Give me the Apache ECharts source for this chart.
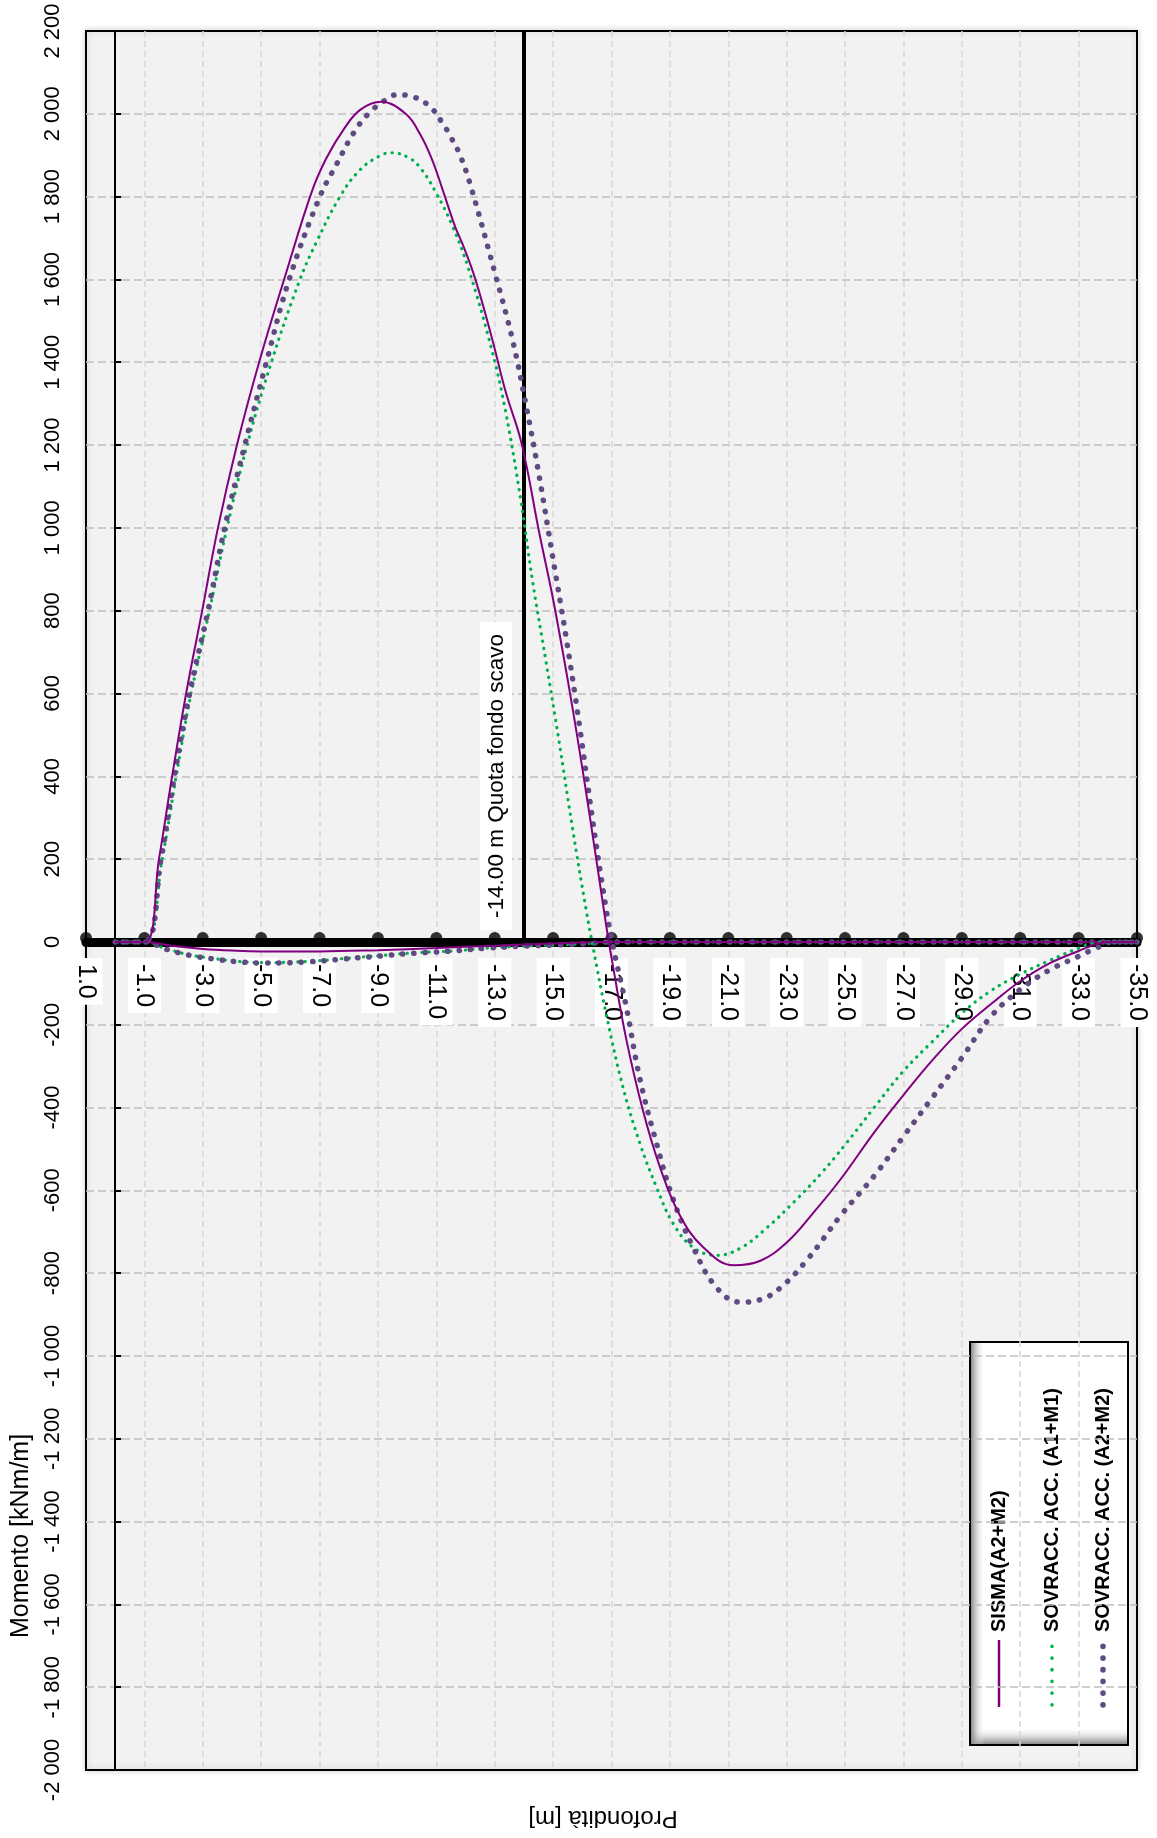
<!DOCTYPE html>
<html>
<head>
<meta charset="utf-8">
<script src="https://cdn.jsdelivr.net/npm/echarts@6/dist/echarts.min.js"></script>
<style>
html,body{margin:0;padding:0;background:#fff;}
#chart{width:1157px;height:1838px;}
</style>
</head>
<body>
<div id="chart"></div>
<script>
// Depth ticks along the wall (m) and the moment range (kNm/m)
const depthTicks = [1, -1, -3, -5, -7, -9, -11, -13, -15, -17, -19, -21, -23, -25, -27, -29, -31, -33, -35];
const momentMin = -2000;
const momentMax = 2200;
const excavationDepth = -14;

// SISMA (A2+M2) - bending moment along depth
const sismaDepth = [0, -1, -1.5, -1.95, -2.43, -2.98, -3.52, -4.17, -4.93, -5.83, -6.75, -7.25, -7.85, -8.4, -9.1, -9.95, -10.45, -10.85, -11.2, -11.64, -11.93, -12.33, -12.91, -13.37, -13.92, -14.52, -15.03, -15.67, -16.24, -16.82, -17.05, -17.5, -18.08, -18.66, -19.34, -20.15, -21.18, -22.1, -23.02, -23.94, -24.86, -26, -27, -28, -29, -30, -31, -32, -33, -33.6, -34, -35];
const sismaMoment = [0, 0, 200, 400, 600, 800, 1000, 1200, 1400, 1610, 1815, 1895, 1965, 2010, 2029, 2000, 1950, 1890, 1820, 1728, 1680, 1602, 1457, 1330, 1204, 990, 816, 563, 311, 39, -58, -233, -408, -544, -660, -738, -781, -770, -725, -652, -572, -460, -370, -285, -210, -150, -95, -52, -22, -5, 0, 0];
const sismaReturnDepth = [-35, -17, -15, -13, -11, -9, -7, -5, -4, -3, -2, -1, 0];
const sismaReturnMoment = [0, 0, -4, -9, -15, -20, -23, -23, -21, -17, -10, 0, 0];

// SOVRACC. ACC. (A1+M1)
const a1Depth = [0, -1, -1.61, -2.09, -2.6, -3.23, -3.83, -4.52, -5.35, -6.33, -6.9, -7.7, -8.39, -9.08, -9.48, -10.1, -10.5, -10.97, -11.54, -12.11, -12.91, -13.37, -13.89, -14.29, -14.75, -15.2, -15.67, -16.13, -16.36, -16.82, -17.39, -17.97, -18.54, -19.11, -19.8, -20.6, -21.41, -22.33, -23.25, -24.17, -25, -26, -27, -28, -29, -30, -31, -32, -33, -33.5, -34, -35];
const a1Moment = [0, 0, 200, 400, 600, 800, 1000, 1200, 1400, 1600, 1691, 1800, 1865, 1899, 1906, 1892, 1865, 1812, 1731, 1624, 1427, 1282, 1068, 874, 680, 486, 272, 78, -10, -175, -350, -486, -592, -680, -738, -757, -740, -690, -628, -560, -490, -400, -312, -240, -172, -118, -78, -45, -15, -3, 0, 0];
const a1ReturnDepth = [-35, -17, -16.4, -15.2, -14, -12.77, -11.55, -10.3, -9.1, -7.87, -6.65, -5.06, -4.2, -3.35, -2.6, -1.76, -1, 0];
const a1ReturnMoment = [0, 0, -3, -7, -10, -15, -22, -26, -33, -40, -47, -50, -47, -40, -32, -17, 0, 0];

// SOVRACC. ACC. (A2+M2)
const a2Depth = [0, -1, -1.57, -2.03, -2.55, -3.18, -3.75, -4.44, -5.18, -5.96, -7.01, -7.59, -8.16, -8.67, -9.25, -9.65, -10.1, -10.74, -11.19, -11.48, -11.82, -12.2, -13.02, -13.6, -14.06, -14.52, -14.98, -15.44, -15.9, -16.36, -16.82, -17.05, -17.5, -17.97, -18.54, -19.11, -19.8, -20.6, -21.41, -22.1, -22.79, -23.71, -24.86, -26, -27, -28, -29, -30, -31, -32, -33, -33.6, -34.2, -35];
const a2Moment = [0, 0, 200, 400, 600, 800, 1000, 1200, 1400, 1600, 1800, 1879, 1953, 2000, 2033, 2046, 2043, 2020, 1980, 1946, 1899, 1820, 1612, 1457, 1301, 1126, 932, 738, 524, 291, 78, -10, -155, -330, -486, -621, -738, -835, -870, -864, -835, -767, -660, -565, -470, -375, -280, -180, -115, -68, -35, -15, 0, 0];
const a2ReturnDepth = [-35, -17, -16.4, -15.2, -14, -12.77, -11.55, -10.3, -9.1, -7.87, -6.65, -5.06, -4.2, -3.35, -2.6, -1.76, -1, 0];
const a2ReturnMoment = [0, 0, -3, -7, -10, -15, -22, -27, -34, -41, -48, -51, -48, -41, -33, -18, 0, 0];

const FONT = '"Liberation Sans", Arial, Helvetica, sans-serif';
const C_SISMA = '#800080';
const C_A1 = '#00b050';
const C_A2 = '#5f4a82';

function zip(xs, ys) { return xs.map((x, i) => [x, ys[i]]); }

function fmtMoment(v) {
  const a = Math.abs(v).toString();
  const s = a.length > 3 ? a.slice(0, a.length - 3) + ' ' + a.slice(-3) : a;
  return (v < 0 ? '-' : '') + s;
}

const solidStyle = { color: C_SISMA, width: 2 };
const a1Style = { color: C_A1, width: 3.2, type: [0.3, 7.0], cap: 'round' };
const a2Style = { color: C_A2, width: 5.5, type: [0.3, 11.0], cap: 'round' };

function curve(name, data, lineStyle, z) {
  return {
    name: name, type: 'line', data: data, smooth: 0.4, showSymbol: false,
    symbol: 'none', lineStyle: lineStyle, itemStyle: { color: lineStyle.color },
    z: z, silent: true
  };
}

const chart = echarts.init(document.getElementById('chart'), null, { renderer: 'canvas' });

const option = {
  animation: false,
  backgroundColor: '#ffffff',
  textStyle: { fontFamily: FONT },
  grid: {
    left: 86, right: 20, top: 31, bottom: 68,
    show: true, backgroundColor: '#f2f2f2', borderColor: '#000', borderWidth: 2,
    shadowColor: 'rgba(0,0,0,0.18)', shadowBlur: 6
  },
  xAxis: {
    type: 'value', inverse: true, min: -35, max: 1, interval: 2,
    axisLine: { show: true, onZero: true, lineStyle: { color: '#000', width: 9 } },
    axisTick: { show: false },
    axisLabel: {
      rotate: -90, margin: -812, color: '#000', fontSize: 25, fontFamily: FONT,
      backgroundColor: '#fff', padding: [4, 6, 4, 6],
      showMinLabel: true, showMaxLabel: true, hideOverlap: false,
      formatter: v => v.toFixed(1)
    },
    splitLine: { show: true, showMinLine: false, showMaxLine: false, lineStyle: { color: '#d6d6d6', width: 1.5, type: [6, 4] } }
  },
  yAxis: {
    type: 'value', min: momentMin, max: momentMax, interval: 200,
    axisLine: { show: true, onZero: true, lineStyle: { color: '#000', width: 2 } },
    axisTick: { show: true, inside: true, length: 6, lineStyle: { color: '#000', width: 2 } },
    axisLabel: {
      rotate: 90, margin: 22, color: '#000', fontSize: 22, fontFamily: FONT,
      showMinLabel: true, showMaxLabel: true,
      formatter: fmtMoment
    },
    splitLine: { show: true, showMinLine: false, showMaxLine: false, lineStyle: { color: '#bfbfbf', width: 1.5, type: [8, 4] } }
  },
  series: [
    {
      name: 'baseline', type: 'scatter', data: depthTicks.map(d => [d, 0]),
      symbol: 'circle', symbolSize: 12, symbolOffset: [0, -4],
      itemStyle: { color: '#000' }, z: 3, silent: true,
      markLine: {
        silent: true, symbol: 'none', animation: false,
        lineStyle: { color: '#000', width: 4, type: 'solid' },
        label: {
          show: true, position: 'insideStartTop', distance: 12,
          formatter: '-14.00 m Quota fondo scavo',
          color: '#000', fontSize: 22.5, fontFamily: FONT,
          backgroundColor: '#fff', padding: [5, 12, 4, 12]
        },
        data: [[{ coord: [excavationDepth, 0] }, { coord: [excavationDepth, momentMax] }]]
      }
    },
    curve('SOVRACC. ACC. (A1+M1)', zip(a1ReturnDepth, a1ReturnMoment), a1Style, 4),
    curve('SOVRACC. ACC. (A2+M2)', zip(a2ReturnDepth, a2ReturnMoment), a2Style, 4),
    curve('SISMA(A2+M2)', zip(sismaReturnDepth, sismaReturnMoment), solidStyle, 5),
    curve('SOVRACC. ACC. (A1+M1)', zip(a1Depth, a1Moment), a1Style, 6),
    curve('SOVRACC. ACC. (A2+M2)', zip(a2Depth, a2Moment), a2Style, 6),
    curve('SISMA(A2+M2)', zip(sismaDepth, sismaMoment), solidStyle, 7)
  ],
  graphic: [
    {
      type: 'text', x: 21, y: 1536, rotation: Math.PI / 2,
      style: { text: 'Momento [kNm/m]', font: '25px ' + FONT, fill: '#000', align: 'center', verticalAlign: 'middle' }
    },
    {
      type: 'text', x: 603, y: 1818, rotation: Math.PI,
      style: { text: 'Profondità [m]', font: '24px ' + FONT, fill: '#000', align: 'center', verticalAlign: 'middle' }
    },
    {
      type: 'group', x: 970, y: 1745, rotation: Math.PI / 2, z: 100,
      children: [
        { type: 'rect', shape: { x: 0, y: 0, width: 403, height: 158 }, style: { fill: '#fff' } },
        {
          type: 'rect', shape: { x: 0, y: 0, width: 18, height: 158 },
          style: { fill: new echarts.graphic.LinearGradient(0, 0, 1, 0, [{ offset: 0, color: '#7a7a7a' }, { offset: 1, color: 'rgba(255,255,255,0)' }]) }
        },
        {
          type: 'rect', shape: { x: 0, y: 0, width: 403, height: 15 },
          style: { fill: new echarts.graphic.LinearGradient(0, 0, 0, 1, [{ offset: 0, color: '#7a7a7a' }, { offset: 1, color: 'rgba(255,255,255,0)' }]) }
        },
        { type: 'rect', shape: { x: 0, y: 0, width: 403, height: 158 }, style: { fill: 'none', stroke: '#000', lineWidth: 2 } },
        { type: 'line', shape: { x1: 38, y1: 29, x2: 105, y2: 29 }, style: { stroke: C_SISMA, lineWidth: 2.5 } },
        { type: 'text', x: 113, y: 29, style: { text: 'SISMA(A2+M2)', font: 'bold 20px ' + FONT, fill: '#000', align: 'left', verticalAlign: 'middle' } },
        { type: 'line', shape: { x1: 40, y1: 82, x2: 105, y2: 82 }, style: { stroke: C_A1, lineWidth: 3.5, lineDash: [0.3, 11.4], lineCap: 'round' } },
        { type: 'text', x: 113, y: 82, style: { text: 'SOVRACC. ACC. (A1+M1)', font: 'bold 20px ' + FONT, fill: '#000', align: 'left', verticalAlign: 'middle' } },
        { type: 'line', shape: { x1: 40, y1: 133, x2: 105, y2: 133 }, style: { stroke: C_A2, lineWidth: 5.5, lineDash: [0.3, 11.4], lineCap: 'round' } },
        { type: 'text', x: 113, y: 133, style: { text: 'SOVRACC. ACC. (A2+M2)', font: 'bold 20px ' + FONT, fill: '#000', align: 'left', verticalAlign: 'middle' } }
      ]
    }
  ]
};

chart.setOption(option);
</script>
</body>
</html>
